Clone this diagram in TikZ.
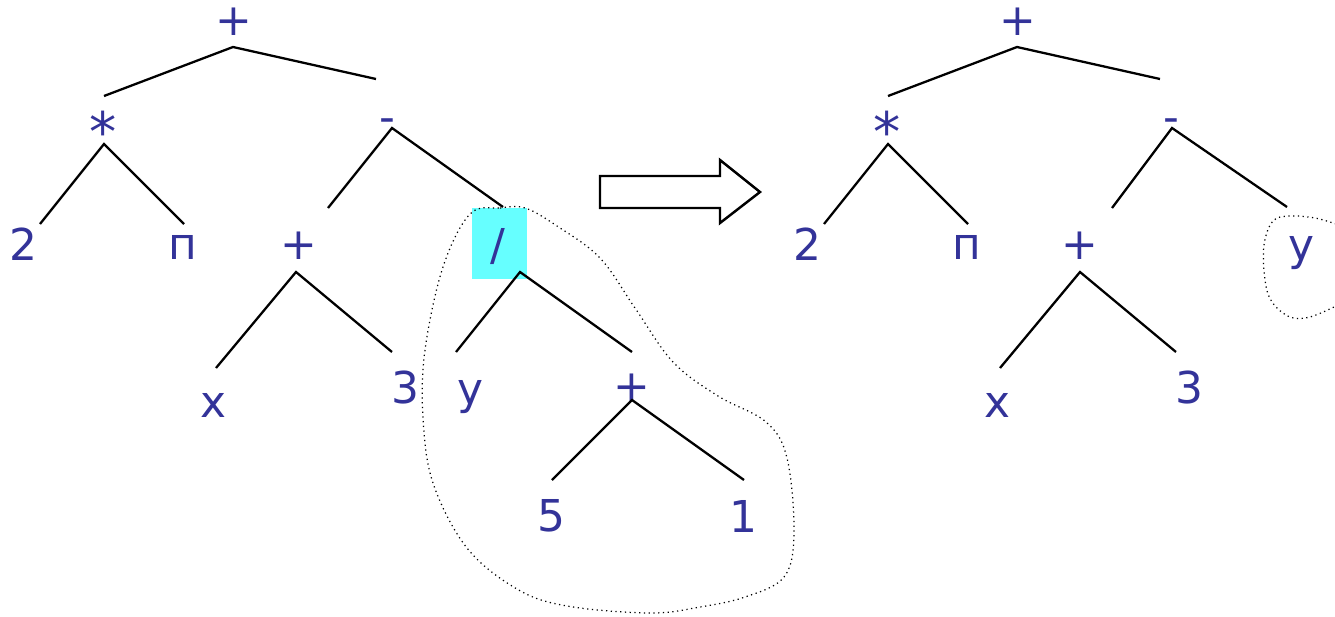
\documentclass[tikz,border=0pt]{standalone}
\usepackage{fontspec}
\newfontfamily\lbl{DejaVu Sans}
\definecolor{txt}{RGB}{51,51,153}
\definecolor{hl}{RGB}{102,255,255}
\tikzset{
  lab/.style={text=txt, font=\lbl\fontsize{25}{30}\selectfont, inner sep=0pt, anchor=center},
  star/.style={lab, font=\lbl\fontsize{31}{36}\selectfont},
  edge/.style={draw=black, line width=1.3pt},
  blob/.style={draw=black, dotted, line width=0.7pt},
  bigarrow/.style={draw=black, line width=1.4pt, fill=white, line join=miter}
}
\begin{document}
\begin{tikzpicture}[x=0.02cm, y=-0.02cm]
\useasboundingbox (0,0) rectangle (1335,616);

% ---------- left tree ----------
\node[lab] (L0) at (234,22) {+};
\node[star] (L1) at (103,131) {*};
\node[lab] (L2) at (387,126) {-};
\node[lab] (L3) at (23,244) {2};
\node[lab] (L4) at (183,247) {п};
\node[lab] (L5) at (299,246) {+};
\node[lab] (L7) at (213,405) {x};
\node[lab] (L8) at (405,388) {3};
\node[fill=hl, minimum width=55*0.02cm, minimum height=71*0.02cm, inner sep=0pt] (L6box) at (499.5,243.5) {};
\node[lab] (L6) at (498,247) {/};
\node[lab] (L9) at (470,397) {y};
\node[lab] (L10) at (632,388) {+};
\node[lab] (L11) at (551,516) {5};
\node[lab] (L12) at (743,516) {1};

\coordinate (a0) at (233,47);
\coordinate (a1t) at (104,96);
\coordinate (a2t) at (376,79);
\coordinate (a1) at (104,144);
\coordinate (a3t) at (40,224);
\coordinate (a4t) at (184,224);
\coordinate (a2) at (392,128);
\coordinate (a5t) at (328,208);
\coordinate (a6t) at (503,207);
\coordinate (a5) at (296,272);
\coordinate (a7t) at (216,368);
\coordinate (a8t) at (392,352);
\coordinate (a6) at (520,272);
\coordinate (a9t) at (456,352);
\coordinate (a10t) at (632,352);
\coordinate (a10) at (632,400);
\coordinate (a11t) at (552,480);
\coordinate (a12t) at (744,480);

\draw[edge] (a1t) -- (a0) -- (a2t);
\draw[edge] (a3t) -- (a1) -- (a4t);
\draw[edge] (a5t) -- (a2) -- (a6t);
\draw[edge] (a7t) -- (a5) -- (a8t);
\draw[edge] (a9t) -- (a6) -- (a10t);
\draw[edge] (a11t) -- (a10) -- (a12t);

\draw[blob] plot[smooth cycle, tension=0.6] coordinates {
 (470,214) (500,208) (525,208) (557,226) (600,258) (635,308) (673,362)
 (718,396) (766,422) (787,458) (794,533) (784,577) (745,597) (700,607)
 (650,613) (567,606) (517,589) (467,548) (433,483) (423,417) (425,350) (443,267)};

% ---------- arrow ----------
\draw[bigarrow] (600,176) -- (720,176) -- (720,160) -- (760,192) -- (720,223) -- (720,208) -- (600,208) -- cycle;

% ---------- right tree ----------
\node[lab] (R0) at (1018,22) {+};
\node[star] (R1) at (887,131) {*};
\node[lab] (R2) at (1171,126) {-};
\node[lab] (R3) at (807,244) {2};
\node[lab] (R4) at (967,247) {п};
\node[lab] (R5) at (1080,246) {+};
\node[lab] (R6) at (1301,253) {y};
\node[lab] (R7) at (997,405) {x};
\node[lab] (R8) at (1189,388) {3};

\coordinate (b0) at (1017,47);
\coordinate (b1t) at (888,96);
\coordinate (b2t) at (1160,79);
\coordinate (b1) at (888,144);
\coordinate (b3t) at (824,224);
\coordinate (b4t) at (968,224);
\coordinate (b2) at (1172,128);
\coordinate (b5t) at (1112,208);
\coordinate (b6t) at (1287,207);
\coordinate (b5) at (1080,272);
\coordinate (b7t) at (1000,368);
\coordinate (b8t) at (1176,352);

\draw[edge] (b1t) -- (b0) -- (b2t);
\draw[edge] (b3t) -- (b1) -- (b4t);
\draw[edge] (b5t) -- (b2) -- (b6t);
\draw[edge] (b7t) -- (b5) -- (b8t);

\draw[blob] plot[smooth, tension=0.6] coordinates {
 (1336,224) (1315,218) (1290,216) (1273,221) (1264,245) (1265,280) (1272,302)
 (1290,317) (1310,317) (1336,306)};
\end{tikzpicture}
\end{document}
